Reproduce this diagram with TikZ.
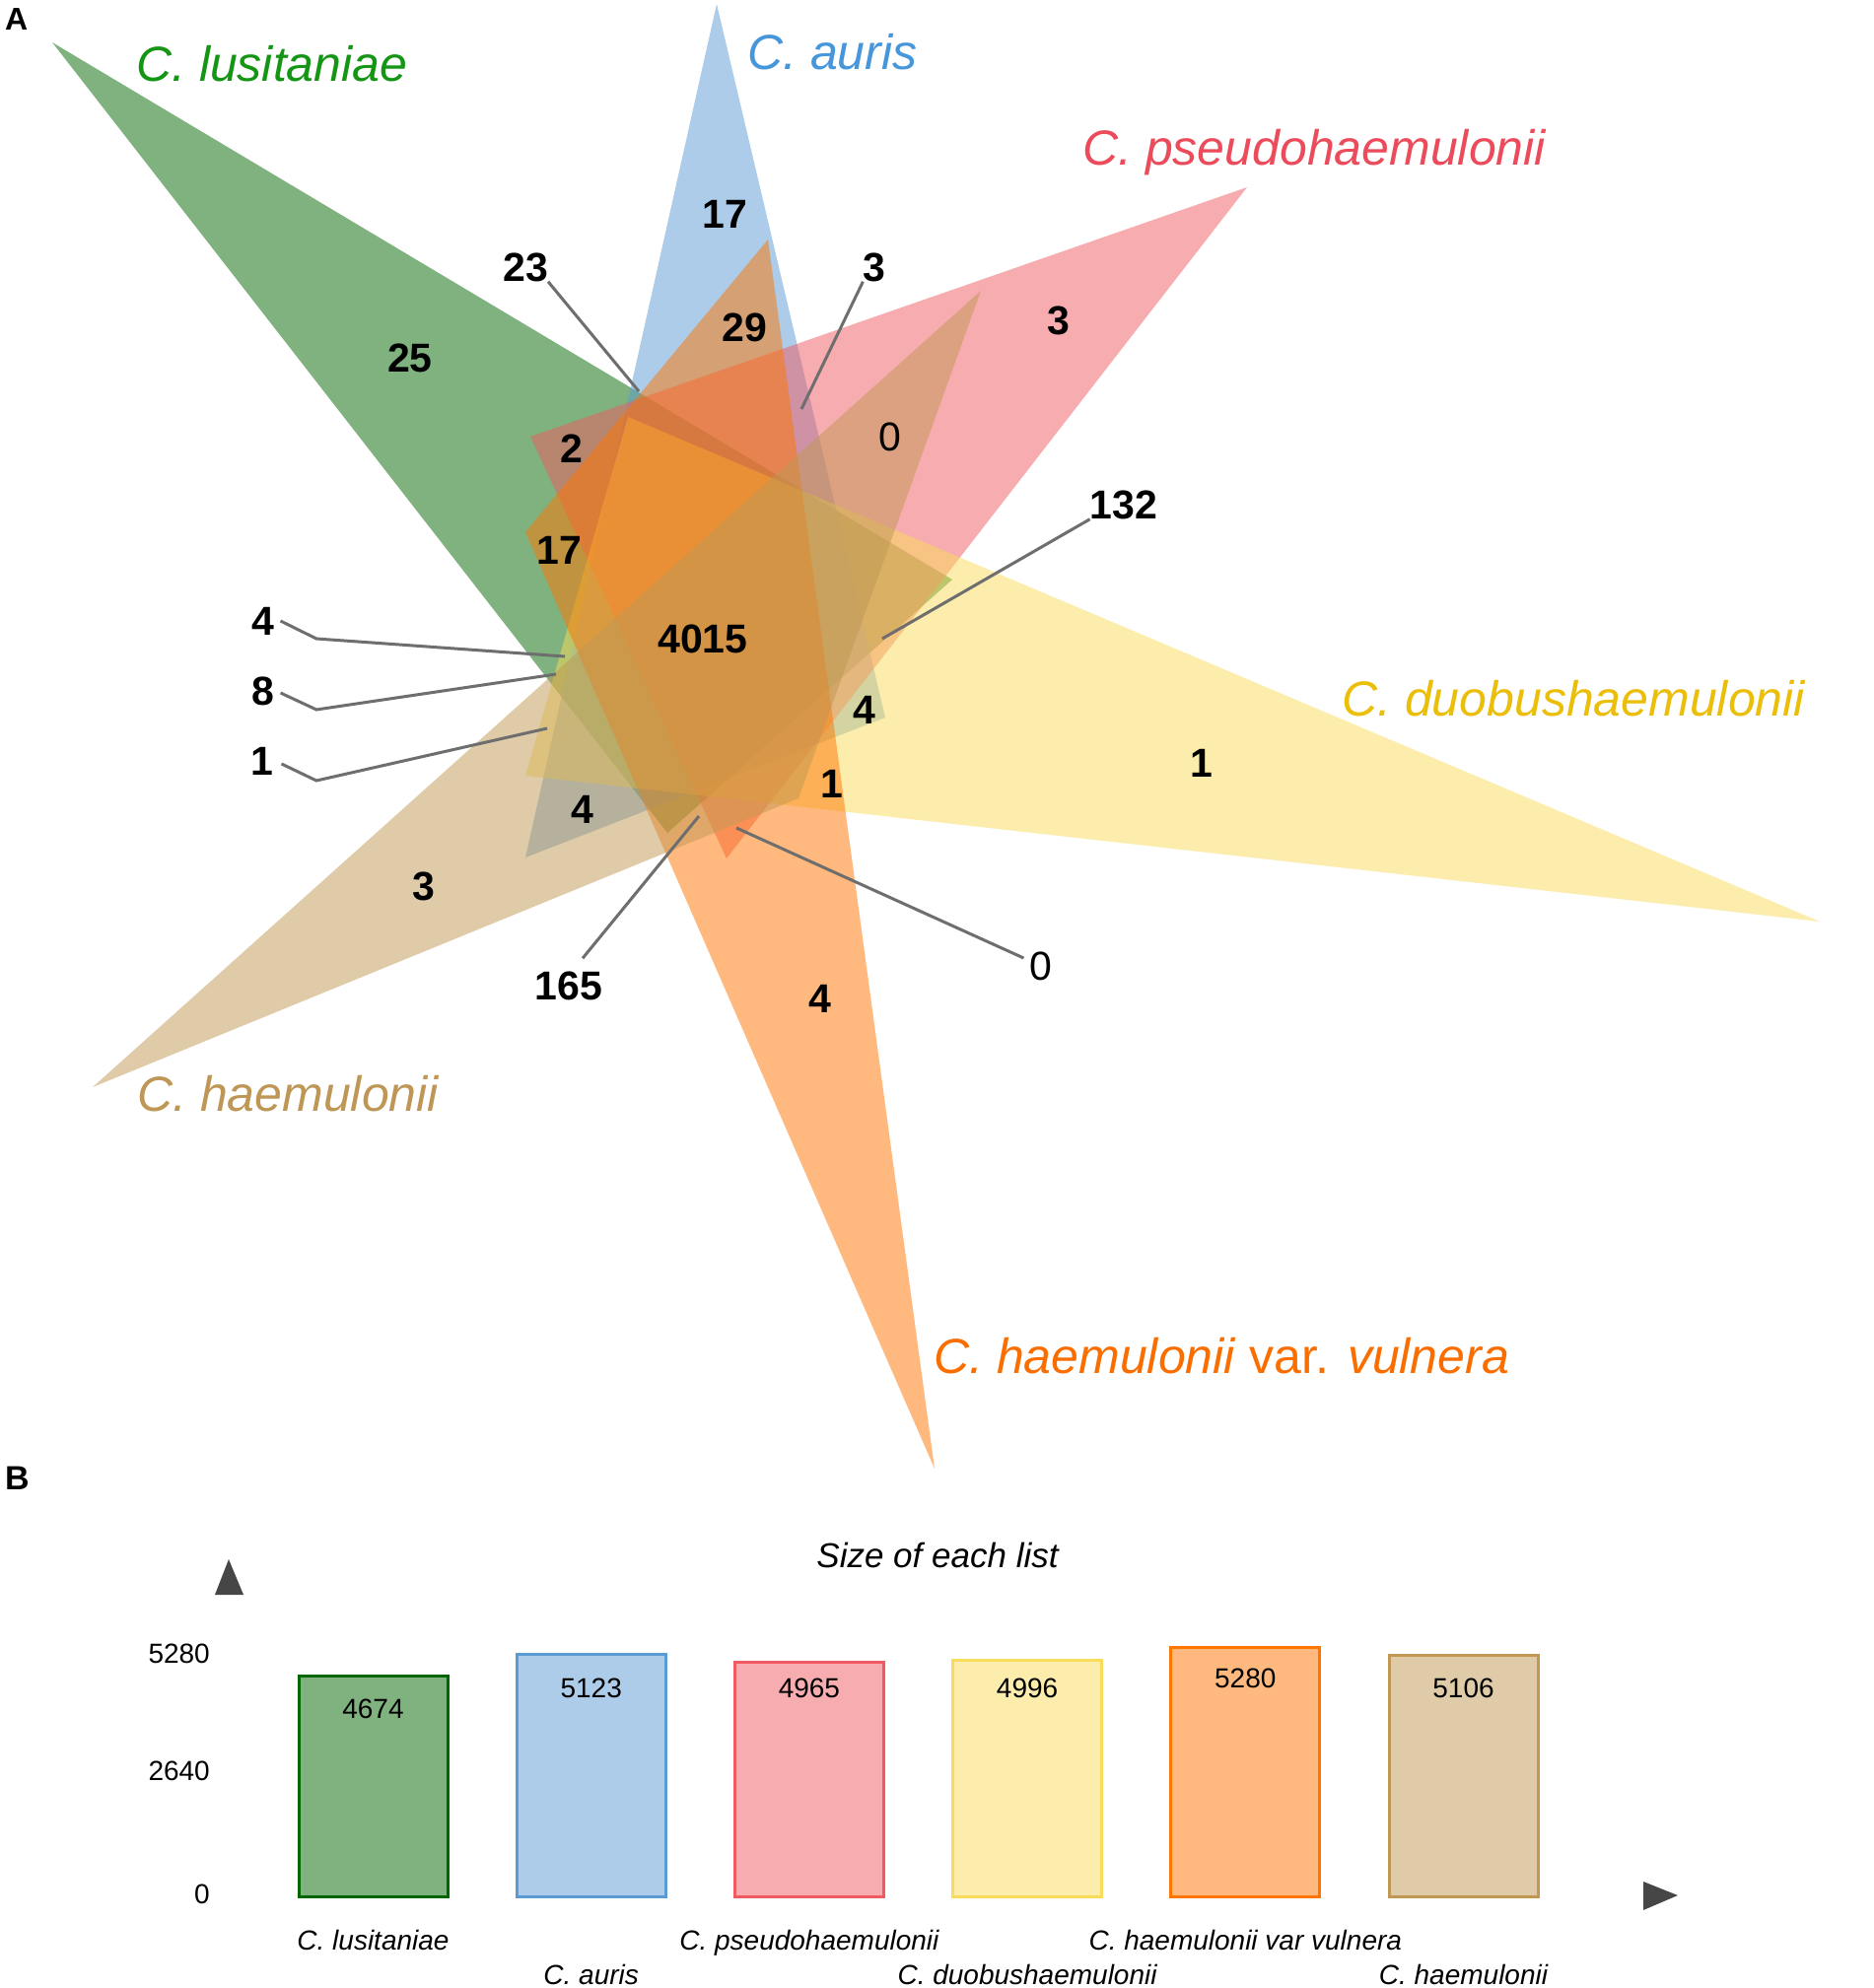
\documentclass[tikz,border=0pt]{standalone}
\usepackage{fontspec}
\setmainfont{Liberation Sans}
\definecolor{cgreen}{RGB}{0,102,0}
\definecolor{cblue}{RGB}{90,155,212}
\definecolor{cred}{RGB}{241,90,96}
\definecolor{cyellow}{RGB}{250,220,91}
\definecolor{corange}{RGB}{255,117,0}
\definecolor{ctan}{RGB}{192,152,83}
\definecolor{tgreen}{RGB}{20,150,20}
\definecolor{tblue}{RGB}{70,150,220}
\definecolor{tred}{RGB}{235,75,90}
\definecolor{tyellow}{RGB}{235,190,10}
\definecolor{torange}{RGB}{250,110,0}
\definecolor{ttan}{RGB}{190,150,85}
\definecolor{ptrgray}{RGB}{110,110,110}
\definecolor{axgray}{RGB}{70,70,70}
\begin{document}
\begin{tikzpicture}[x=1pt,y=-1pt,
  venn/.style={fill opacity=0.5},
  num/.style={inner sep=0pt, font=\fontsize{41}{41}\selectfont\bfseries},
  numr/.style={inner sep=0pt, font=\fontsize{41}{41}\selectfont},
  spec/.style={inner sep=0pt, anchor=base west, font=\fontsize{50}{50}\selectfont},
  ptr/.style={draw=ptrgray, line width=3pt},
  bar/.style={line width=3pt, fill opacity=0.5, minimum width=151pt, anchor=south west, inner sep=0pt, outer sep=0pt},
  val/.style={inner sep=0pt, anchor=base, font=\fontsize{28}{28}\selectfont},
  blab/.style={inner sep=0pt, anchor=base, font=\fontsize{28}{28}\selectfont\itshape},
  axl/.style={inner sep=0pt, anchor=base east, font=\fontsize{28}{28}\selectfont},
  panel/.style={inner sep=0pt, anchor=base west, font=\fontsize{32}{32}\selectfont\bfseries}
]
\useasboundingbox (0,0) rectangle (1900,2017);
\fill[white] (0,0) rectangle (1900,2017);

% ---- Panel A : six triangles ----
\fill[cgreen, venn]  (53,43)    -- (966,588) -- (677,845) -- cycle;
\fill[cblue, venn]   (727,4)    -- (533,870) -- (898,728) -- cycle;
\fill[cred, venn]    (1265,190) -- (538,443) -- (737,871) -- cycle;
\fill[cyellow, venn] (1846,935) -- (637,423) -- (533,787) -- cycle;
\fill[corange, venn] (948,1490) -- (779,243) -- (533,540) -- cycle;
\fill[ctan, venn]    (94,1103)  -- (995,295) -- (810,810) -- cycle;

\node[panel] (pA) at (5,31) {A};

\node[spec, text=tgreen]  (sLus) at (138,83)   {\itshape C. lusitaniae};
\node[spec, text=tblue]   (sAur) at (758,71)   {\itshape C. auris};
\node[spec, text=tred]    (sPse) at (1098,168) {\itshape C. pseudohaemulonii};
\node[spec, text=tyellow] (sDuo) at (1361,726) {\itshape C. duobushaemulonii};
\node[spec, text=torange] (sVul) at (947,1393) {\textit{C. haemulonii} var. \textit{vulnera}};
\node[spec, text=ttan]    (sHae) at (139,1127) {\itshape C. haemulonii};

% region counts
\node[num] (n25)   at (416,363)  {25};
\node[num] (n17b)  at (735,217)  {17};
\node[num] (n29)   at (755,332)  {29};
\node[num] (n23)   at (533,271)  {23};
\node[num] (n3a)   at (887,271)  {3};
\node[num] (n3p)   at (1074,325) {3};
\node[numr] (n0a)  at (903,443)  {0};
\node[num] (n2)    at (580,455)  {2};
\node[num] (n17l)  at (567,558)  {17};
\node[num] (n132)  at (1140,512) {132};
\node[num] (n4015) at (713,648)  {4015};
\node[num] (n4l)   at (267,630)  {4};
\node[num] (n8)    at (267,701)  {8};
\node[num] (n1l)   at (266,772)  {1};
\node[num] (n4by)  at (877,720)  {4};
\node[num] (n1o)   at (844,795)  {1};
\node[num] (n1y)   at (1219,774) {1};
\node[num] (n4g)   at (591,821)  {4};
\node[num] (n3t)   at (430,899)  {3};
\node[num] (n165)  at (577,1000) {165};
\node[numr] (n0b)  at (1056,980) {0};
\node[num] (n4o)   at (832,1013) {4};

% pointer ends
\coordinate (e23)  at (648,397);
\coordinate (e3a)  at (813,415);
\coordinate (e132) at (895,648);
\coordinate (k4l)  at (321,648);
\coordinate (e4l)  at (573,666);
\coordinate (k8)   at (321,720);
\coordinate (e8)   at (564,684);
\coordinate (k1l)  at (321,792);
\coordinate (e1l)  at (555,739);
\coordinate (e165) at (709,828);
\coordinate (e0b)  at (747,840);

\draw[ptr] (n23.south east) -- (e23);
\draw[ptr] (n3a.south west) -- (e3a);
\draw[ptr] (n132.south west) -- (e132);
\draw[ptr] (n4l.east) ++(6,0) -- (k4l) -- (e4l);
\draw[ptr] (n8.east) ++(6,2) -- (k8) -- (e8);
\draw[ptr] (n1l.east) ++(8,3) -- (k1l) -- (e1l);
\draw[ptr] (n165.north) ++(14,-13) -- (e165);
\draw[ptr] (n0b.west) ++(-6,-8) -- (e0b);

% ---- Panel B : bar chart ----
\node[panel, font=\fontsize{34}{34}\selectfont\bfseries] (pB) at (5,1511) {B};
\node[inner sep=0pt, anchor=base, font=\fontsize{35}{35}\selectfont\itshape] (title) at (951,1590) {Size of each list};

\fill[axgray] (232,1582) -- (218,1618) -- (247,1618) -- cycle;
\fill[axgray] (1667,1909) -- (1667,1938) -- (1702,1923) -- cycle;

\node[axl] (y5280) at (213,1687) {5280};
\node[axl] (y2640) at (213,1806) {2640};
\node[axl] (y0)    at (213,1931) {0};

\node[bar, draw=cgreen,  fill=cgreen,  minimum height=224pt]   (b1) at (303,1924)   {};
\node[bar, draw=cblue,   fill=cblue,   minimum height=245.5pt] (b2) at (524.2,1924) {};
\node[bar, draw=cred,    fill=cred,    minimum height=237.9pt] (b3) at (745.4,1924) {};
\node[bar, draw=cyellow, fill=cyellow, minimum height=239.4pt] (b4) at (966.6,1924) {};
\node[bar, draw=corange, fill=corange, minimum height=253pt]   (b5) at (1187.8,1924) {};
\node[bar, draw=ctan,    fill=ctan,    minimum height=244.7pt] (b6) at (1409,1924)  {};

\node[val] (v1) at (378.5,1743)  {4674};
\node[val] (v2) at (599.7,1722)  {5123};
\node[val] (v3) at (820.9,1722)  {4965};
\node[val] (v4) at (1042.1,1722) {4996};
\node[val] (v5) at (1263.3,1712) {5280};
\node[val] (v6) at (1484.5,1722) {5106};

\node[blab] (l1) at (378.5,1978)  {C. lusitaniae};
\node[blab] (l2) at (599.7,2013)  {C. auris};
\node[blab] (l3) at (820.9,1978)  {C. pseudohaemulonii};
\node[blab] (l4) at (1042.1,2013) {C. duobushaemulonii};
\node[blab] (l5) at (1263.3,1978) {C. haemulonii var vulnera};
\node[blab] (l6) at (1484.5,2013) {C. haemulonii};
\end{tikzpicture}
\end{document}
